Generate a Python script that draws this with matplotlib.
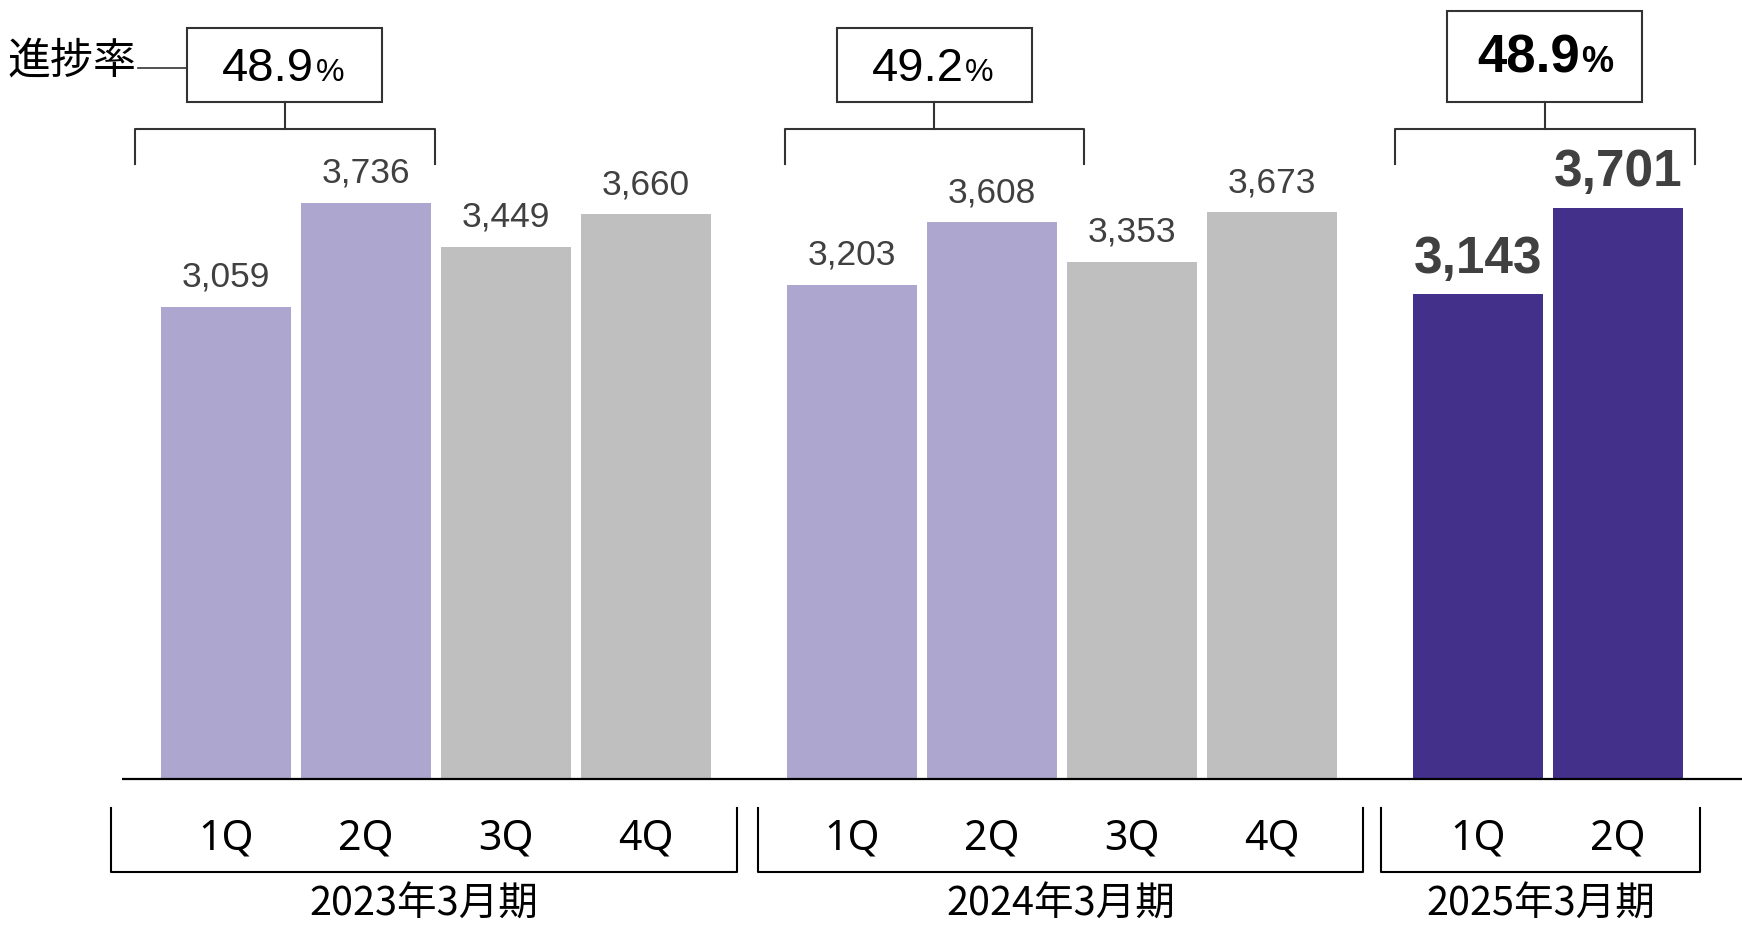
import matplotlib.pyplot as plt
from matplotlib.patches import Rectangle

plt.rcParams['font.family'] = ['Liberation Sans', 'Noto Sans CJK JP']

# 四半期売上（億円）と上期進捗率
periods = ['2023年3月期', '2024年3月期', '2025年3月期']
quarters = [['1Q', '2Q', '3Q', '4Q'], ['1Q', '2Q', '3Q', '4Q'], ['1Q', '2Q']]
sales = [[3059, 3736, 3449, 3660], [3203, 3608, 3353, 3673], [3143, 3701]]
progress = ['48.9', '49.2', '48.9']

light = '#ada7cf'
gray = '#bfbfbf'
dark = '#43308b'
bar_colors = [[light, light, gray, gray], [light, light, gray, gray], [dark, dark]]
current = [False, False, True]

starts = [0, 4.47, 8.94]
width = 0.93
line_c = '#333333'
jp = ['Noto Sans CJK JP', 'DejaVu Sans']

fig = plt.figure(figsize=(17.42, 9.25), dpi=100)
ax = fig.add_axes([0, 0, 1, 1])
ax.set_xlim(-1.615, 10.828)
ax.set_ylim(-946, 5049)
ax.axis('off')

# baseline
ax.plot([-0.74, 10.828], [0, 0], color='black', lw=1.6, solid_capstyle='butt')

left_pad = [0.82, 0.67, 0.69]
right_pad = [0.65, 0.65, 0.59]
box_off = [0.42, 0.59, 0.48]

for g, (s, vals, cols) in enumerate(zip(starts, sales, bar_colors)):
    xs = [s + i for i in range(len(vals))]
    ax.bar(xs, vals, width=width, color=cols, align='center')

    for x, v in zip(xs, vals):
        if current[g]:
            ax.annotate(f'{v:,}', (x, v), xytext=(0, 15.5), textcoords='offset points',
                        ha='center', va='baseline', fontsize=37, fontweight='bold',
                        color='#404040')
        else:
            ax.annotate(f'{v:,}', (x, v), xytext=(0, 14.5), textcoords='offset points',
                        ha='center', va='baseline', fontsize=25.5, color='#404040')

    # quarter labels and bottom bracket
    for x, q in zip(xs, quarters[g]):
        ax.text(x, -385, q, ha='center', va='center', fontsize=29.5,
                family=['Noto Sans', 'DejaVu Sans'])
    l, r = xs[0] - left_pad[g], xs[-1] + right_pad[g]
    ax.plot([l, l, r, r], [-188, -603, -603, -188], color='black', lw=1.5)
    ax.text((l + r) / 2, -815, periods[g], ha='center', va='center',
            fontsize=28.5, family=jp)

    # first-half progress bracket and box
    cx = s + box_off[g]
    ax.plot([cx - 1.07, cx - 1.07, cx + 1.07, cx + 1.07], [3986, 4213, 4213, 3986],
            color=line_c, lw=1.5)
    ax.plot([cx, cx], [4213, 4388], color=line_c, lw=1.5)
    top = 4977 if current[g] else 4867
    ax.add_patch(Rectangle((cx - 0.696, 4388), 1.392, top - 4388, fill=False,
                           edgecolor=line_c, lw=1.5))
    if current[g]:
        ax.text(cx + 0.25, 4580, progress[g], ha='right', va='baseline',
                fontsize=38, fontweight='bold')
        ax.text(cx + 0.26, 4580, '%', ha='left', va='baseline',
                fontsize=26, fontweight='bold')
    else:
        ax.text(cx + 0.21, 4525, progress[g], ha='right', va='baseline', fontsize=34)
        ax.text(cx + 0.22, 4525, '%', ha='left', va='baseline', fontsize=23)

ax.text(-0.64, 4650, '進捗率', ha='right', va='center', fontsize=31, family=jp)
ax.plot([-0.63, starts[0] + box_off[0] - 0.696], [4608, 4608], color=line_c, lw=1.2)

fig.savefig('out.png', dpi=100)
